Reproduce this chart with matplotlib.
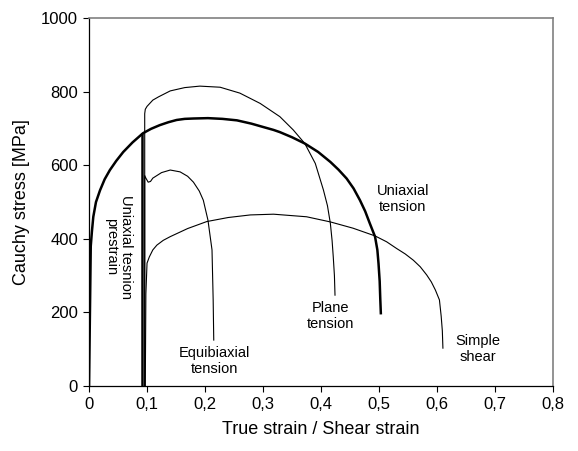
import matplotlib.pyplot as plt

plt.rcParams['font.family'] = ['Liberation Sans', 'DejaVu Sans']

# uniaxial tension (thick)
uni_x = [0, 0.002, 0.003, 0.005, 0.0074, 0.012, 0.019, 0.027, 0.036, 0.047, 0.059, 0.075,
         0.093, 0.107, 0.122, 0.137, 0.151, 0.165, 0.18, 0.205, 0.23, 0.255, 0.28, 0.3,
         0.318, 0.329, 0.35, 0.372, 0.395, 0.416, 0.43, 0.444, 0.456, 0.467, 0.476, 0.484,
         0.493, 0.497, 0.499, 0.501, 0.502, 0.503]
uni_y = [0, 250, 380, 420, 460, 500, 532, 562, 587, 612, 636, 662,
         687, 699, 709, 717, 723, 726, 727, 728, 726, 722, 713, 704,
         696, 690, 676, 659, 636, 609, 588, 564, 537, 505, 475, 442,
         406, 370, 333, 285, 238, 198]

# unloading after uniaxial prestrain
pre_x = [0.092, 0.092]
pre_y = [686, 0]

# plane tension
plane_x = [0.096, 0.096, 0.097, 0.1, 0.11, 0.12, 0.14, 0.165, 0.191, 0.226, 0.26,
           0.295, 0.329, 0.352, 0.372, 0.39, 0.404, 0.411, 0.416, 0.419, 0.421, 0.423, 0.424]
plane_y = [0, 740, 752, 760, 777, 786, 802, 811, 815, 812, 796,
           768, 732, 696, 659, 605, 533, 490, 442, 395, 351, 300, 247]

# equibiaxial tension
equi_x = [0.096, 0.096, 0.098, 0.102, 0.106, 0.11, 0.125, 0.14, 0.157, 0.17, 0.18,
          0.19, 0.197, 0.205, 0.212, 0.214, 0.215]
equi_y = [0, 572, 565, 554, 556, 565, 580, 587, 582, 570, 554,
          530, 505, 451, 370, 234, 125]

# simple shear
shear_x = [0.097, 0.098, 0.1, 0.104, 0.11, 0.117, 0.128, 0.14, 0.17, 0.203, 0.24, 0.278,
           0.318, 0.375, 0.416, 0.455, 0.493, 0.513, 0.53, 0.545, 0.559, 0.571, 0.582,
           0.59, 0.597, 0.604, 0.607, 0.609, 0.61]
shear_y = [0, 250, 334, 351, 370, 383, 396, 406, 428, 447, 458, 465,
           467, 460, 446, 429, 408, 392, 374, 359, 342, 324, 302,
           283, 261, 234, 190, 150, 103]

xticks = [0, 0.1, 0.2, 0.3, 0.4, 0.5, 0.6, 0.7, 0.8]
xtick_labels = ['0', '0,1', '0,2', '0,3', '0,4', '0,5', '0,6', '0,7', '0,8']
yticks = [0, 200, 400, 600, 800, 1000]

fig = plt.figure(figsize=(5.78, 4.51), dpi=100)
ax = fig.add_axes([0.154, 0.144, 0.803, 0.816])

ax.plot(uni_x, uni_y, color='black', lw=1.8)
ax.plot(pre_x, pre_y, color='black', lw=1.8)
ax.plot(plane_x, plane_y, color='black', lw=0.8)
ax.plot(equi_x, equi_y, color='black', lw=0.8)
ax.plot(shear_x, shear_y, color='black', lw=0.8)

ax.set_xlim(0, 0.8)
ax.set_ylim(0, 1000)
ax.set_xticks(xticks)
ax.set_xticklabels(xtick_labels)
ax.set_yticks(yticks)
ax.tick_params(direction='out', length=4.5, width=0.8, labelsize=12, colors='black')

for s in ['top', 'right']:
    ax.spines[s].set_color('#808080')
    ax.spines[s].set_linewidth(1.2)
for s in ['left', 'bottom']:
    ax.spines[s].set_linewidth(0.9)

ax.set_xlabel('True strain / Shear strain', fontsize=13, labelpad=6)
ax.set_ylabel('Cauchy stress [MPa]', fontsize=13, labelpad=8)

ax.text(0.0514, 378, 'Uniaxial tesnion\nprestrain', rotation=270, ha='center', va='center',
        fontsize=10.5, linespacing=1.1)
ax.text(0.2155, 68, 'Equibiaxial\ntension', ha='center', va='center', fontsize=10.5, linespacing=1.15)
ax.text(0.417, 190, 'Plane\ntension', ha='center', va='center', fontsize=10.5, linespacing=1.15)
ax.text(0.541, 508, 'Uniaxial\ntension', ha='center', va='center', fontsize=10.5, linespacing=1.15)
ax.text(0.671, 100, 'Simple\nshear', ha='center', va='center', fontsize=10.5, linespacing=1.15)

fig.savefig('out.png', dpi=100)
